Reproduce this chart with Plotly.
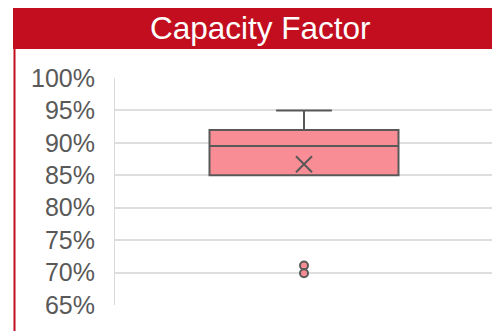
import plotly.graph_objects as go

# Data
title_text = "Capacity Factor"
q1 = [0.85]
median = [0.895]
q3 = [0.92]
lower_fence = [0.85]
upper_fence = [0.95]
mean_val = [0.867]
outliers = [0.711, 0.699]
tick_vals = [0.65, 0.70, 0.75, 0.80, 0.85, 0.90, 0.95, 1.00]
tick_text = ["65%", "70%", "75%", "80%", "85%", "90%", "95%", "100%"]

pos = 0
box_w = 0.5
edge = "#595959"
fill = "#F88D96"
red = "#C20E1E"

fig = go.Figure()
fig.add_trace(go.Box(
    x=[pos], q1=q1, median=median, q3=q3,
    lowerfence=lower_fence, upperfence=upper_fence,
    width=box_w, whiskerwidth=0.295, fillcolor=fill,
    line=dict(color=edge, width=2),
    boxpoints=False, showlegend=False, hoverinfo="skip",
))
# mean marker
fig.add_trace(go.Scatter(
    x=[pos], y=mean_val, mode="markers",
    marker=dict(symbol="x-thin", size=16, line=dict(color=edge, width=2)),
    showlegend=False, hoverinfo="skip",
))
# outliers
fig.add_trace(go.Scatter(
    x=[pos] * len(outliers), y=outliers, mode="markers",
    marker=dict(symbol="circle", size=8, color=fill, line=dict(color=edge, width=2)),
    showlegend=False, hoverinfo="skip",
))

OFF = 8  # page body margin
W, H = 500 - OFF, 331 - OFF
L, R, T, B = 115 - OFF, 7, 78 - OFF, 26
pw, ph = W - L - R, H - T - B

def px_x(p):
    return (p - OFF - L) / pw

def px_y(p):
    return (H - B - (p - OFF)) / ph

fig.update_layout(
    width=W, height=H,
    margin=dict(l=L, r=R, t=T, b=B),
    paper_bgcolor="white", plot_bgcolor="white",
    font=dict(family="Liberation Sans, Arial, sans-serif"),
    xaxis=dict(range=[-0.5, 0.5], visible=False, fixedrange=True),
    yaxis=dict(
        range=[0.65, 1.0], tickvals=tick_vals, ticktext=tick_text,
        showgrid=True, gridcolor="#DEDEDE", gridwidth=1.5,
        showline=True, linecolor="#D9D9D9", linewidth=1,
        zeroline=False,
        ticks="outside", ticklen=14, tickcolor="rgba(0,0,0,0)",
        tickfont=dict(size=25, color=edge, family="Liberation Sans, Arial, sans-serif"),
    ),
    shapes=[
        dict(type="rect", xref="paper", yref="paper",
             x0=px_x(13), x1=px_x(500), y0=px_y(49), y1=px_y(7),
             fillcolor=red, line=dict(width=0), layer="above"),
        dict(type="line", xref="paper", yref="paper",
             x0=px_x(14.5), x1=px_x(14.5), y0=px_y(49), y1=px_y(331),
             line=dict(color=red, width=2)),
    ],
    annotations=[
        dict(text=title_text, xref="paper", yref="paper",
             x=px_x(260), y=px_y(28), xanchor="center", yanchor="middle",
             showarrow=False,
             font=dict(size=31.5, color="white", family="Liberation Sans, Arial, sans-serif")),
    ],
)

fig.write_html("out.html")
